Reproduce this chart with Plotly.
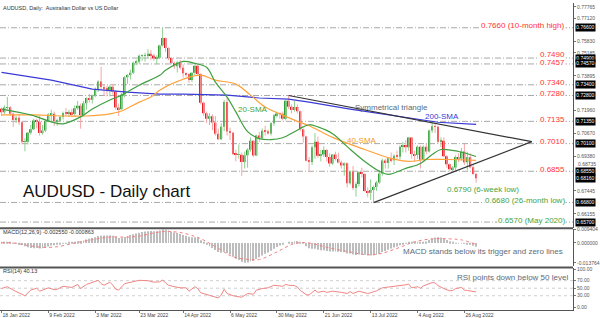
import plotly.graph_objects as go

# ---------------- data (prices in pips, 1e-4) ----------------
chart_caption = "AUDUSD, Daily:  Australian Dollar vs US Dollar"
chart_title = "AUDUSD - Daily chart"

first_open_pips = 7205
close_pips = [
    7186, 7213, 7214, 7177, 7143, 7155, 7130, 7020, 7021, 7071,
    7090, 7140, 7133, 7070, 7083, 7135, 7173, 7177, 7136, 7138,
    7159, 7182, 7179, 7186, 7176, 7208, 7222, 7170, 7236, 7266,
    7256, 7278, 7316, 7359, 7327, 7318, 7311, 7329, 7302, 7213,
    7203, 7284, 7383, 7395, 7407, 7464, 7470, 7503, 7503, 7504,
    7514, 7504, 7487, 7492, 7560, 7603, 7546, 7490, 7462, 7444,
    7465, 7436, 7405, 7400, 7367, 7407, 7447, 7400, 7240, 7180,
    7150, 7163, 7128, 7065, 7035, 7105, 7244, 7078, 7071, 6952,
    6947, 6948, 6907, 6945, 6975, 7026, 6944, 7055, 7041, 7082,
    7080, 7067, 7124, 7169, 7179, 7178, 7150, 7250, 7217, 7198,
    7215, 7192, 7090, 7050, 6914, 6907, 6990, 7020, 6942, 6949,
    6974, 6935, 6899, 6949, 6924, 6904, 6887, 6900, 6788, 6853,
    6761, 6783, 6849, 6840, 6744, 6735, 6750, 6766, 6792, 6842,
    6916, 6902, 6928, 6917, 6942, 6937, 6993, 7002, 6989, 7045,
    6952, 6946, 6992, 6920, 6992, 6966, 7084, 7107, 7105, 7020,
    7026, 6939, 6895, 6866, 6876, 6935, 6926, 6966, 6906, 6933,
    6878, 6840, 6816]
high_pips = [
    7212, 7225, 7272, 7220, 7185, 7165, 7175, 7135, 7040, 7075,
    7115, 7150, 7150, 7165, 7115, 7140, 7180, 7200, 7190, 7150,
    7165, 7190, 7210, 7200, 7205, 7225, 7250, 7235, 7250, 7270,
    7290, 7285, 7325, 7365, 7441, 7345, 7335, 7340, 7345, 7310,
    7235, 7295, 7390, 7400, 7425, 7470, 7480, 7510, 7510, 7520,
    7540, 7535, 7515, 7505, 7565, 7661, 7605, 7550, 7495, 7470,
    7475, 7480, 7455, 7410, 7405, 7410, 7455, 7458, 7405, 7245,
    7190, 7180, 7175, 7165, 7095, 7125, 7255, 7266, 7100, 7075,
    6975, 7005, 6960, 6965, 6985, 7045, 7030, 7060, 7075, 7095,
    7110, 7090, 7130, 7175, 7190, 7185, 7190, 7255, 7283, 7230,
    7250, 7230, 7195, 7095, 7055, 6935, 7000, 7069, 7050, 6975,
    6995, 6980, 6955, 6950, 6965, 6960, 6915, 6905, 6905, 6860,
    6885, 6795, 6855, 6875, 6845, 6765, 6810, 6775, 6800, 6862,
    6925, 6925, 6930, 6960, 6950, 6970, 7000, 7020, 7030, 7048,
    7048, 6970, 7000, 7000, 7000, 7010, 7090, 7137, 7125, 7110,
    7045, 7045, 6945, 6900, 6885, 6945, 6955, 6985, 7009, 6965,
    6955, 6895, 6845]
low_pips = [
    7165, 7175, 7200, 7167, 7104, 7125, 7115, 7006, 6967, 7005,
    7060, 7085, 7095, 7055, 7060, 7075, 7130, 7130, 7110, 7110,
    7130, 7145, 7165, 7160, 7165, 7160, 7200, 7094, 7165, 7200,
    7240, 7235, 7270, 7300, 7315, 7280, 7275, 7275, 7285, 7200,
    7165, 7200, 7270, 7345, 7370, 7400, 7450, 7455, 7475, 7470,
    7490, 7480, 7475, 7455, 7485, 7555, 7525, 7478, 7455, 7430,
    7410, 7425, 7380, 7385, 7350, 7355, 7395, 7395, 7230, 7165,
    7125, 7115, 7085, 7055, 7030, 7030, 7080, 7055, 7030, 6945,
    6910, 6925, 6829, 6870, 6875, 6965, 6935, 6940, 7020, 7030,
    7055, 7060, 7055, 7110, 7155, 7150, 7140, 7140, 7205, 7180,
    7190, 7180, 7080, 7015, 6910, 6850, 6890, 6925, 6930, 6910,
    6935, 6910, 6880, 6890, 6915, 6900, 6870, 6830, 6764, 6780,
    6750, 6713, 6770, 6820, 6740, 6710, 6695, 6681, 6745, 6785,
    6830, 6870, 6870, 6905, 6890, 6920, 6920, 6960, 6960, 6970,
    6925, 6910, 6925, 6870, 6915, 6950, 6960, 7070, 7070, 7010,
    6990, 6935, 6875, 6855, 6858, 6860, 6905, 6915, 6890, 6860,
    6870, 6835, 6790]

# date labels of the time scale (bar number, text)
tick_bars = [0, 16, 32, 47, 62, 78, 94, 110, 126, 142, 158]
tick_labels = ["18 Jan 2022", "9 Feb 2022", "3 Mar 2022", "23 Mar 2022",
               "14 Apr 2022", "6 May 2022", "30 May 2022", "21 Jun 2022",
               "13 Jul 2022", "4 Aug 2022", "26 Aug 2022"]

# moving averages (bar, price)
sma20_bar = [0, 10, 17, 21, 27, 31, 37, 41, 47, 54, 56, 62, 66, 70, 73, 77, 80, 84,
             88, 92, 96, 100, 103, 105, 108, 113, 118, 124, 129, 132, 138, 143, 147,
             150, 156, 162]
sma20_val = [0.7204, 0.7171, 0.7132, 0.7121, 0.7160, 0.7204, 0.7255, 0.7282, 0.7338,
             0.7393, 0.7421, 0.7471, 0.7460, 0.7438, 0.7355, 0.7271, 0.7188, 0.7077,
             0.7038, 0.7032, 0.7043, 0.7077, 0.7104, 0.7116, 0.7104, 0.7066, 0.6993,
             0.6910, 0.6855, 0.6838, 0.6871, 0.6899, 0.6949, 0.6977, 0.6966, 0.6938]
sma40_bar = [0, 11, 22, 29, 37, 41, 47, 51, 54, 62, 68, 73, 80, 85, 90, 96, 101,
             105, 113, 124, 133, 139, 145, 152, 162]
sma40_val = [0.7171, 0.7171, 0.7165, 0.7165, 0.7177, 0.7193, 0.7243, 0.7271, 0.7310,
             0.7371, 0.7394, 0.7366, 0.7344, 0.7282, 0.7215, 0.7170, 0.7135, 0.7110,
             0.7045, 0.6977, 0.6927, 0.6910, 0.6921, 0.6921, 0.6916]
sma200_bar = [0, 17, 31, 43, 54, 62, 77, 88, 98, 105, 119, 136, 149, 162]
sma200_val = [0.7410, 0.7366, 0.7316, 0.7299, 0.7288, 0.7288, 0.7282, 0.7266, 0.7260,
              0.7243, 0.7204, 0.7162, 0.7130, 0.7118]

# symmetrical triangle (bar, price)
tri_upper_bar = [98, 181]
tri_upper_val = [0.7280, 0.7021]
tri_lower_bar = [127, 181]
tri_lower_val = [0.6679, 0.7021]

# key levels
res_levels = [0.7660, 0.7490, 0.7457, 0.7340, 0.7280, 0.7135, 0.7010, 0.6855]
res_texts = ["0.7660 (10-month high)", "0.7490", "0.7457", "0.7340", "0.7280",
             "0.7135", "0.7010", "0.6855"]
res_shift = [2, 4, 1, 2, 2, 2, 2, 2]
sup_levels = [0.6680, 0.6570]
sup_texts = ["0.6680 (26-month low)", "0.6570 (May 2020)"]
six_week_low = 0.6790
six_week_text = "0.6790 (6-week low)"
last_price = 0.6816
price_ticks = [0.66155, 0.67445, 0.69380, 0.70670, 0.71960,
               0.73895, 0.75185, 0.75830, 0.77120, 0.77765]
price_tick_near_box = 0.68735

# MACD(12,26,9) main values per bar (1e-4)
macd_pips = [
    2, 3, 4, 2, -1, -3, -6, -14, -22, -30,
    -35, -36, -35, -38, -37, -31, -24, -18, -15, -12,
    -9, -5, -1, 2, 4, 8, 12, 10, 17, 24,
    29, 34, 40, 47, 50, 51, 51, 52, 50, 42,
    34, 34, 41, 48, 54, 60, 65, 71, 75, 78,
    81, 82, 81, 80, 85, 92, 91, 86, 79, 72,
    68, 62, 55, 49, 42, 39, 39, 34, 19, 3,
    -11, -22, -34, -48, -62, -67, -58, -70, -79, -95,
    -108, -118, -130, -136, -134, -126, -124, -111, -99, -86,
    -75, -66, -54, -40, -28, -18, -12, 0, 6, 9,
    12, 13, 6, -4, -22, -36, -40, -40, -46, -50,
    -51, -55, -59, -58, -59, -61, -63, -64, -72, -72,
    -79, -82, -79, -77, -81, -85, -86, -85, -81, -74,
    -63, -55, -46, -39, -31, -25, -16, -9, -4, 5,
    4, 3, 6, 3, 8, 10, 20, 30, 38, 39,
    38, 31, 21, 11, 4, 1, -1, 1, -4, -6,
    -12, -19, -26]
signal_bar = [0, 4, 9, 14, 19, 25, 31, 37, 43, 47, 53, 57, 62, 66, 68, 74, 79, 85,
              88, 94, 99, 102, 105, 111, 119, 124, 129, 136, 141, 147, 153, 157, 162]
signal_pips = [1, 0, -17, -30, -26, 0, 22, 41, 40, 47, 73, 79, 68, 45, 30, -37, -95,
               -114, -114, -62, -11, 2, 0, -30, -62, -80, -75, -30, 8, 28, 28, 21, -9]
macd_ticks = [0.009404, 0.0, -0.013764]
macd_tick_text = ["0.009404", "0.000000", "-0.013764"]

# RSI(14) (bar, value)
rsi_bar = [0, 2, 4, 7, 8, 10, 12, 13, 16, 18, 19, 21, 24, 26, 27, 29, 33, 34, 35, 37,
           38, 39, 40, 42, 45, 47, 50, 52, 54, 55, 56, 57, 59, 61, 63, 64, 66, 67, 68,
           70, 72, 74, 75, 76, 77, 79, 82, 83, 84, 86, 87, 89, 91, 93, 95, 96, 97, 98,
           100, 101, 102, 103, 104, 105, 107, 108, 110, 111, 113, 116, 118, 119, 120,
           122, 123, 125, 126, 127, 128, 130, 132, 135, 136, 138, 139, 140, 142, 143,
           144, 146, 147, 148, 149, 151, 153, 154, 155, 157, 158, 159, 160, 161, 162]
rsi_val = [49, 54, 45, 33, 30, 45, 50, 42, 51, 46, 47, 55, 52, 60, 49, 60, 71, 62, 58,
           66, 58, 47, 45, 62, 67, 71, 70, 66, 67, 72, 64, 58, 54, 51, 51, 42, 54, 49,
           38, 34, 30, 24, 32, 47, 36, 30, 26, 31, 36, 34, 45, 49, 51, 58, 57, 55, 60,
           58, 57, 53, 44, 39, 33, 32, 45, 39, 42, 39, 42, 39, 36, 41, 36, 42, 40, 36,
           38, 40, 43, 51, 53, 55, 58, 59, 61, 51, 54, 50, 56, 63, 65, 64, 57, 49, 43,
           44, 49, 52, 45, 44, 42, 41, 40]
rsi_levels = [30, 50, 70]
rsi_ticks = [0, 30, 50, 70, 100]
rsi_tick_text = ["0.00", "30.00", "50.00", "70.00", "100.00"]

# ---------------- styling ----------------
FONT = "Liberation Sans, Arial, sans-serif"
GREEN = "#2f9e35"
GREEN_WICK = "#8fcf8f"
RED = "#ec1c24"
RED_WICK = "#f5a6a6"
RES_RED = "#ff3333"
SUP_GREEN = "#45a33f"
SLATE = "#5d6c7a"

W, H = 600, 318
ML, MR, MT, MB = 0, 25, 0, 8
PH = H - MT - MB  # 310


def pfrac(px_from_top):
    return (PH - px_from_top) / PH


X_RANGE = [-0.51, 195.07]
MAIN_RANGE = [0.65378, 0.77989]
MACD_RANGE = [-0.01614, 0.00974]
RSI_RANGE = [-7.9, 102.6]

n = len(close_pips)
bars = list(range(n))
close = [c / 1e4 for c in close_pips]
opn = [first_open_pips / 1e4] + close[:-1]
high = [h / 1e4 for h in high_pips]
low = [l / 1e4 for l in low_pips]
up = [i for i in bars if close[i] >= opn[i]]
dn = [i for i in bars if close[i] < opn[i]]


def wicks(idx):
    xs, ys = [], []
    for i in idx:
        xs += [i, i, None]
        ys += [low[i], high[i], None]
    return xs, ys


def bodies(idx, color):
    return go.Bar(
        x=idx,
        base=[min(opn[i], close[i]) for i in idx],
        y=[max(abs(close[i] - opn[i]), 0.00012) for i in idx],
        width=0.64, marker=dict(color=color, line=dict(width=0)),
        xaxis="x", yaxis="y", hoverinfo="skip", showlegend=False)


fig = go.Figure()
wx, wy = wicks(up)
fig.add_trace(go.Scatter(x=wx, y=wy, mode="lines", line=dict(color=GREEN_WICK, width=1),
                         showlegend=False, hoverinfo="skip"))
wx, wy = wicks(dn)
fig.add_trace(go.Scatter(x=wx, y=wy, mode="lines", line=dict(color=RED_WICK, width=1),
                         showlegend=False, hoverinfo="skip"))
fig.add_trace(bodies(up, GREEN))
fig.add_trace(bodies(dn, RED))

fig.add_trace(go.Scatter(x=sma200_bar, y=sma200_val, mode="lines",
                         line=dict(color="#3a3ad8", width=1.2), showlegend=False))
fig.add_trace(go.Scatter(x=sma40_bar, y=sma40_val, mode="lines", line_shape="spline",
                         line=dict(color="#ffa23a", width=1.2), showlegend=False))
fig.add_trace(go.Scatter(x=sma20_bar, y=sma20_val, mode="lines", line_shape="spline",
                         line=dict(color="#3f9f3f", width=1.2), showlegend=False))
fig.add_trace(go.Scatter(x=tri_upper_bar, y=tri_upper_val, mode="lines",
                         line=dict(color="#333333", width=1.2), showlegend=False))
fig.add_trace(go.Scatter(x=tri_lower_bar, y=tri_lower_val, mode="lines",
                         line=dict(color="#333333", width=1.2), showlegend=False))

# MACD
fig.add_trace(go.Bar(x=bars, y=[m / 1e4 for m in macd_pips], width=0.32,
                     marker=dict(color="#bdbdbd", line=dict(width=0)),
                     xaxis="x2", yaxis="y2", showlegend=False, hoverinfo="skip"))
fig.add_trace(go.Scatter(x=signal_bar, y=[s / 1e4 for s in signal_pips], mode="lines",
                         line_shape="spline", line=dict(color="#f07f7f", width=1, dash="dot"),
                         xaxis="x2", yaxis="y2", showlegend=False))
# RSI
fig.add_trace(go.Scatter(x=rsi_bar, y=rsi_val, mode="lines",
                         line=dict(color="#f08585", width=1),
                         xaxis="x3", yaxis="y3", showlegend=False))

shapes = []
for lv in res_levels + sup_levels:
    shapes.append(dict(type="line", xref="paper", x0=0, x1=1, yref="y", y0=lv, y1=lv,
                       line=dict(color="#a9a9a9", width=1, dash="6px,2px,1px,2px"),
                       layer="below"))
for lv in rsi_levels:
    shapes.append(dict(type="line", xref="paper", x0=0, x1=1, yref="y3", y0=lv, y1=lv,
                       line=dict(color="#cfcfcf", width=1, dash="dot"), layer="below"))
for sep in [227.5, 267.0]:
    shapes.append(dict(type="line", xref="paper", x0=0, x1=1, yref="paper",
                       y0=pfrac(sep), y1=pfrac(sep), line=dict(color="#555555", width=2)))

ann = []


def txt(text, x, y, xref="x", yref="y", size=8, color="#000", xanchor="center",
        yanchor="middle", bg=None, yshift=0):
    d = dict(text=text, x=x, y=y, xref=xref, yref=yref, showarrow=False,
             font=dict(family=FONT, size=size, color=color), xanchor=xanchor,
             yanchor=yanchor, yshift=yshift, borderpad=0)
    if bg:
        d["bgcolor"] = bg
    ann.append(d)


LABEL_X = 192.7
for lv, t, s in zip(res_levels, res_texts, res_shift):
    txt(t, LABEL_X, lv, size=8, color=RES_RED, xanchor="right", bg="white", yshift=s)
for lv, t in zip(sup_levels, sup_texts):
    txt(t, LABEL_X, lv, size=8, color=SUP_GREEN, xanchor="right", bg="white", yshift=2)
txt(six_week_text, 164.5, six_week_low - 0.0036, size=8, color=SUP_GREEN)

# scale label that sits right above a price box
ann.append(dict(text="%.5f" % price_tick_near_box, x=1.0052, y=price_tick_near_box,
                xref="paper", yref="y", showarrow=False, xanchor="left",
                yanchor="bottom", yshift=-1,
                font=dict(family=FONT, size=5, color="#555")))

# price boxes on the right scale
for lv in res_levels + sup_levels + [last_price]:
    ann.append(dict(text="%.5f" % lv, x=1.004, y=lv, xref="paper", yref="y",
                    showarrow=False, xanchor="left", yanchor="middle",
                    font=dict(family=FONT, size=5, color="white"),
                    bgcolor="black", borderpad=0.3))

txt("Symmetrical triangle", 133.2, 0.7215, size=8, color=SLATE)
txt("200-SMA", 150.2, 0.7163, size=8, color="#3a3ad8")
txt("20-SMA", 85.9, 0.7202, size=8, color="#3f9f3f")
txt("40-SMA", 123.0, 0.7029, size=8, color="#f59a23")
txt(chart_title, 7.0, 0.6743, size=17, color="#111", xanchor="left")
txt("MACD stands below its trigger and zero lines", 192.0, -0.0058, xref="x2",
    yref="y2", size=8, color=SLATE, xanchor="right")
txt("RSI points down below 50 level", 193.7, 79, xref="x3", yref="y3", size=8,
    color=SLATE, xanchor="right")
txt(chart_caption, 0.004, pfrac(5), xref="paper", yref="paper", size=5.5,
    color="#333", xanchor="left")
txt("MACD(12,26,9) -0.002550 -0.000863", 0.004, pfrac(231), xref="paper",
    yref="paper", size=5.5, color="#333", xanchor="left")
txt("RSI(14) 40.13", 0.004, pfrac(271), xref="paper", yref="paper", size=5.5,
    color="#333", xanchor="left")

axis_common = dict(showgrid=False, zeroline=False, range=X_RANGE, fixedrange=True)
yax_common = dict(side="right", showgrid=False, zeroline=False, showline=True,
                  linecolor="#555", linewidth=1, ticks="outside", ticklen=2,
                  tickcolor="#777", tickfont=dict(family=FONT, size=5, color="#555"),
                  fixedrange=True)

fig.update_layout(
    width=W, height=H, margin=dict(l=ML, r=MR, t=MT, b=MB),
    paper_bgcolor="white", plot_bgcolor="white", barmode="overlay",
    showlegend=False, font=dict(family=FONT),
    xaxis=dict(anchor="y", showticklabels=False, **axis_common),
    xaxis2=dict(anchor="y2", matches="x", showticklabels=False, **axis_common),
    xaxis3=dict(anchor="y3", matches="x", tickmode="array", tickvals=tick_bars,
                ticktext=tick_labels, ticklabelposition="outside right",
                tickfont=dict(family=FONT, size=5, color="#444"), ticks="outside",
                ticklen=2, tickcolor="#777", showline=True, linecolor="#555",
                **axis_common),
    yaxis=dict(domain=[pfrac(227), 1.0], range=MAIN_RANGE, tickmode="array",
               tickvals=price_ticks, ticktext=["%.5f" % v for v in price_ticks],
               **yax_common),
    yaxis2=dict(domain=[pfrac(266), pfrac(228)], range=MACD_RANGE, tickmode="array",
                tickvals=macd_ticks, ticktext=macd_tick_text, **yax_common),
    yaxis3=dict(domain=[0.0, pfrac(268)], range=RSI_RANGE, tickmode="array",
                tickvals=rsi_ticks, ticktext=rsi_tick_text, **yax_common),
    shapes=shapes, annotations=ann,
)

fig.write_html("out.html", config={"displayModeBar": False})
